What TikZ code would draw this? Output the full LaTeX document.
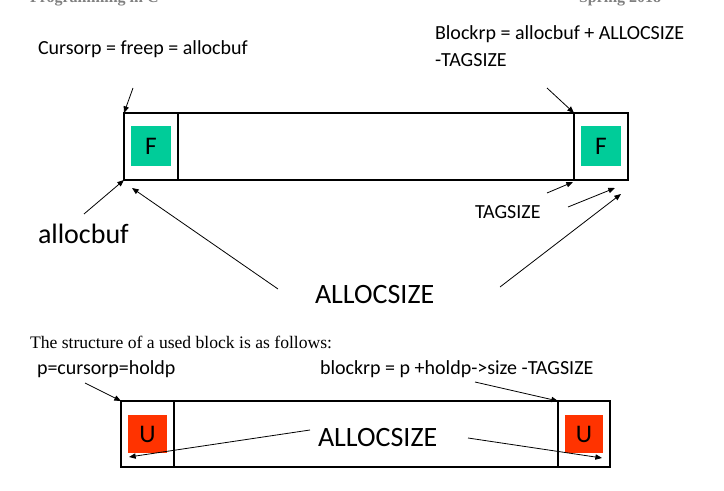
\documentclass[tikz,border=0pt]{standalone}
\usepackage{fontspec}
\setmainfont{Carlito}
\newfontfamily\timesfont{Liberation Serif}
\usetikzlibrary{arrows.meta,positioning}
\definecolor{freegreen}{RGB}{0,204,153}
\definecolor{usedred}{RGB}{255,51,0}
\definecolor{headgray}{RGB}{128,128,128}

\begin{document}
\begin{tikzpicture}[
    x=0.75pt, y=-0.75pt,
    every node/.style={inner sep=0pt, outer sep=0pt},
    cell/.style={draw, line width=0.8pt},
    tagbox/.style={minimum width=30pt, minimum height=30pt, font=\fontsize{19}{21}\selectfont},
    lbl/.style={anchor=base west, font=\fontsize{15}{18}\selectfont},
    biglbl/.style={anchor=base west, font=\fontsize{21}{24}\selectfont},
    ptr/.style={-{Triangle[length=5pt,width=4pt]}, line width=0.6pt},
]
\useasboundingbox (0,0) rectangle (724,491);
\clip (0,0) rectangle (724,491);

% page header, cut off at the top
\node[anchor=base west, text=headgray, font=\timesfont\bfseries\fontsize{12}{14}\selectfont] (course) at (30,3) {Programming in C};
\node[anchor=base west, text=headgray, font=\timesfont\bfseries\fontsize{12}{14}\selectfont] (term) at (579,3) {Spring 2018};

% free block
\node[cell, minimum width=40.5pt, minimum height=50.25pt, anchor=north west] (fltag) at (124,113) {};
\node[cell, minimum width=297pt, minimum height=50.25pt, right=0pt of fltag] (fbody) {};
\node[cell, minimum width=40.5pt, minimum height=50.25pt, right=0pt of fbody] (frtag) {};
\node[tagbox, fill=freegreen] (flf) at (fltag) {F};
\node[tagbox, fill=freegreen] (frf) at (frtag) {F};

\node[lbl] (cursorp) at (38,55) {Cursorp = freep = allocbuf};
\node[lbl] (blockrp) at (435,40) {Blockrp = allocbuf + ALLOCSIZE};
\node[lbl] (blockrp2) at (435,67) {-TAGSIZE};
\node[biglbl] (allocbuf) at (38,244) {allocbuf};
\node[biglbl] (fsize) at (315,304) {ALLOCSIZE};
\node[lbl] (tagsize) at (475,219) {TAGSIZE};

\coordinate (curtail) at (133,88);
\coordinate (blktail) at (547,88);
\coordinate (buftail) at (84,214);
\coordinate (fsizel) at (278,289);
\coordinate (fsizer) at (500,287);
\coordinate (tagtail1) at (547,193);
\coordinate (tagtail2) at (568,207);
\draw[ptr] (curtail) -- (fltag.north west);
\draw[ptr] (blktail) -- (frtag.north west);
\draw[ptr] (buftail) -- (fltag.south west);
\draw[ptr] (fsizel) -- ([shift={(8,8)}]fltag.south west);
\draw[ptr] (fsizer) -- ([shift={(-7,14)}]frtag.south east);
\draw[ptr] (tagtail1) -- ([shift={(-1,2)}]fbody.south east);
\draw[ptr] (tagtail2) -- ([shift={(-13,8)}]frtag.south east);

% used block
\node[anchor=base west, font=\timesfont\fontsize{13.2}{15}\selectfont] (caption) at (30,349) {The structure of a used block is as follows:};
\node[lbl] (pcur) at (37,374) {p=cursorp=holdp};
\node[lbl] (blkrp) at (320,374) {blockrp = p +holdp->size -TAGSIZE};

\node[cell, minimum width=39.75pt, minimum height=49.5pt, anchor=north west] (ultag) at (121,401) {};
\node[cell, minimum width=288pt, minimum height=49.5pt, right=0pt of ultag] (ubody) {};
\node[cell, minimum width=39pt, minimum height=49.5pt, right=0pt of ubody] (urtag) {};
\node[tagbox, fill=usedred, minimum width=29pt, minimum height=29pt] (ulu) at (ultag) {U};
\node[tagbox, fill=usedred, minimum width=29pt, minimum height=29pt] (uru) at (urtag) {U};
\node[biglbl] (usize) at (318,446) {ALLOCSIZE};

\coordinate (ptail) at (85,383);
\coordinate (rptail) at (475,382);
\coordinate (usizel) at (310,430);
\coordinate (usizer) at (468,438);
\draw[ptr] (ptail) -- (ultag.north west);
\draw[ptr] (rptail) -- (urtag.north west);
\draw[ptr] (usizel) -- ([shift={(8,-10)}]ultag.south west);
\draw[ptr] (usizer) -- ([shift={(-8,-9)}]urtag.south east);
\end{tikzpicture}
\end{document}
